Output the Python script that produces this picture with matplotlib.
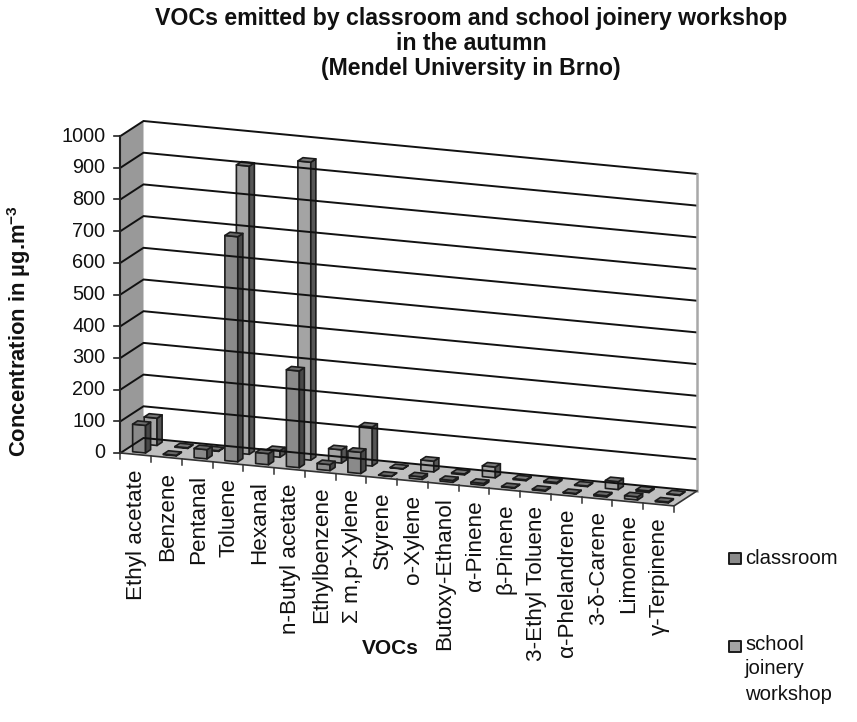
import matplotlib
matplotlib.use("Agg")
import matplotlib.pyplot as plt
from matplotlib.patches import Polygon

plt.rcParams["font.family"] = ["Liberation Sans", "DejaVu Sans"]
plt.rcParams["mathtext.fontset"] = "custom"
plt.rcParams["mathtext.bf"] = "Liberation Sans:bold"

vocs = [
    "Ethyl acetate", "Benzene", "Pentanal", "Toluene", "Hexanal", "n-Butyl acetate",
    "Ethylbenzene", "Σ m,p-Xylene", "Styrene", "o-Xylene", "Butoxy-Ethanol", "α-Pinene",
    "β-Pinene", "3-Ethyl Toluene", "α-Phelandrene", "3-δ-Carene", "Limonene", "γ-Terpinene",
]
classroom = [87, 2, 29, 710, 35, 305, 19, 67, 1, 8, 6, 6, 2, 3, 2, 4, 10, 3]
workshop = [86, 2, 2, 909, 21, 940, 42, 123, 1, 34, 3, 34, 3, 4, 2, 25, 5, 2]
value_ticks = [0, 100, 200, 300, 400, 500, 600, 700, 800, 900, 1000]

# oblique projection of the 3D chart box: category, depth, value -> pixels
ORIGIN = (120.5, 453.0)
CAT_STEP = (30.75, 2.94)
DEPTH_STEP = (23.0, -15.0)
VALUE_STEP = -0.317
BAR_W = 0.21
BAR_D = 0.11

EDGE = "#1c1c1c"


def project(c, d, v):
    x = ORIGIN[0] + CAT_STEP[0] * c + DEPTH_STEP[0] * d
    y = ORIGIN[1] + CAT_STEP[1] * c + DEPTH_STEP[1] * d + VALUE_STEP * v
    return x, y


def face(ax, pts, color, lw=1.2, edge=EDGE):
    ax.add_patch(Polygon(pts, closed=True, facecolor=color, edgecolor=edge, linewidth=lw, joinstyle="round"))


def draw_bar(ax, cat, row, value, colors):
    c0, c1 = cat + 0.5 - BAR_W, cat + 0.5 + BAR_W
    d0, d1 = row - BAR_D, row + BAR_D
    front, side, top = colors
    face(ax, [project(c0, d0, 0), project(c1, d0, 0), project(c1, d0, value), project(c0, d0, value)], front)
    face(ax, [project(c1, d0, 0), project(c1, d1, 0), project(c1, d1, value), project(c1, d0, value)], side)
    face(ax, [project(c0, d0, value), project(c1, d0, value), project(c1, d1, value), project(c0, d1, value)], top)


def draw_walls(ax):
    n = len(vocs)
    vmax = value_ticks[-1]
    face(ax, [project(0, 0, 0), project(0, 1, 0), project(0, 1, vmax), project(0, 0, vmax)], "#999999", 0, "none")
    face(ax, [project(0, 0, 0), project(n, 0, 0), project(n, 1, 0), project(0, 1, 0)], "#c0c0c0", 0, "none")

    for v in value_ticks:
        xs, ys = zip(project(0, 0, v), project(0, 1, v), project(n, 1, v))
        ax.plot(xs, ys, color="#111111", lw=1.4, solid_joinstyle="miter")
        x0, y0 = project(0, 0, v)
        ax.plot([x0 - 6, x0], [y0, y0], color="#222222", lw=1.2)
        ax.text(x0 - 15, y0, str(v), ha="right", va="center", fontsize=14.3, color="#111111")

    xs, ys = zip(project(n, 1, 0), project(n, 1, vmax))
    ax.plot(xs, ys, color="#a8a8a8", lw=1.8)
    xs, ys = zip(project(0, 0, 0), project(0, 0, vmax))
    ax.plot(xs, ys, color="#222222", lw=1.5)
    xs, ys = zip(project(0, 0, 0), project(n, 0, 0), project(n, 1, 0))
    ax.plot(xs, ys, color="#333333", lw=1.2)


def main():
    fig = plt.figure(figsize=(8.57, 7.22), dpi=100)
    ax = fig.add_axes([0, 0, 1, 1])
    ax.set_xlim(0, 857)
    ax.set_ylim(722, 0)
    ax.axis("off")

    draw_walls(ax)

    # back row first so the front row paints over it
    for i, v in enumerate(workshop):
        draw_bar(ax, i, 0.75, v, ("#a4a4a4", "#565656", "#777777"))
    for i, v in enumerate(classroom):
        draw_bar(ax, i, 0.25, v, ("#8a8a8a", "#484848", "#6a6a6a"))

    for i in range(len(vocs) + 1):
        x0, y0 = project(i, 0, 0)
        ax.plot([x0, x0], [y0, y0 + 6], color="#333333", lw=1.1)
    for i, name in enumerate(vocs):
        x0, y0 = project(i + 0.5, 0, 0)
        ax.text(x0 + 1, y0 + 15 - i * 0.15, name, rotation=90, ha="center", va="top", fontsize=16.2, color="#111111")

    titles = ["VOCs emitted by classroom and school joinery workshop", "in the autumn", "(Mendel University in Brno)"]
    for y, line in zip([18, 44, 69], titles):
        ax.text(471, y, line, ha="center", va="center", fontsize=16.7, fontweight="bold", color="#111111")
    ax.text(19, 331, r"Concentration in µg.m$^{\mathbf{-3}}$", rotation=90, ha="center", va="center",
            fontsize=15.8, fontweight="bold", color="#111111")
    ax.text(390, 648, "VOCs", ha="center", va="center", fontsize=15, fontweight="bold", color="#111111")

    # legend keys
    for (ky, col) in [(558.5, "#8a8a8a"), (646.5, "#a4a4a4")]:
        face(ax, [(729, ky - 5.5), (741, ky - 5.5), (741, ky + 5.5), (729, ky + 5.5)], col, 1.4)
    ax.text(745, 558, "classroom", ha="left", va="center", fontsize=14.6, color="#111111")
    ax.text(745, 645, "school", ha="left", va="center", fontsize=14.6, color="#111111")
    ax.text(744, 669, "joinery", ha="left", va="center", fontsize=14.6, color="#111111")
    ax.text(745, 694, "workshop", ha="left", va="center", fontsize=14.6, color="#111111")

    fig.savefig("out.png", dpi=100)


if __name__ == "__main__":
    main()
